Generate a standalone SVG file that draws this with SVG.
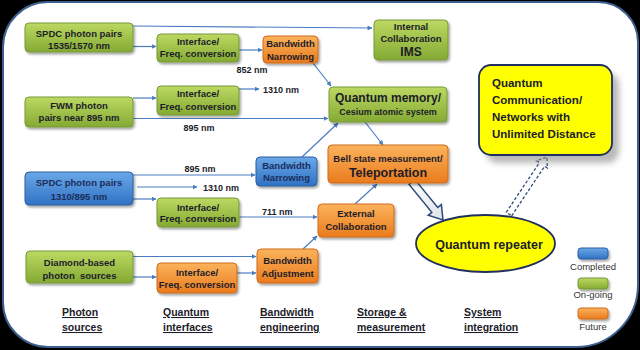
<svg xmlns="http://www.w3.org/2000/svg" width="640" height="350" viewBox="0 0 640 350">
<defs>
<linearGradient id="gG" x1="0" y1="0" x2="0" y2="1"><stop offset="0" stop-color="#bcd962"/><stop offset="1" stop-color="#84aa33"/></linearGradient>
<linearGradient id="gO" x1="0" y1="0" x2="0" y2="1"><stop offset="0" stop-color="#fbb35c"/><stop offset="1" stop-color="#ea7b1d"/></linearGradient>
<linearGradient id="gB" x1="0" y1="0" x2="0" y2="1"><stop offset="0" stop-color="#6aa8e8"/><stop offset="1" stop-color="#3072c4"/></linearGradient>
<linearGradient id="gW" x1="0" y1="0" x2="1" y2="1"><stop offset="0" stop-color="#ffffff"/><stop offset="1" stop-color="#dde3ea"/></linearGradient>
<filter id="sh" x="-20%" y="-20%" width="140%" height="150%"><feDropShadow dx="1.5" dy="2" stdDeviation="1.2" flood-color="#000" flood-opacity="0.35"/></filter>
<filter id="bl" x="-20%" y="-20%" width="140%" height="140%"><feGaussianBlur stdDeviation="3"/></filter>
<marker id="ah" viewBox="0 0 10 10" refX="9" refY="5" markerWidth="5" markerHeight="5" orient="auto" markerUnits="userSpaceOnUse"><path d="M0,0 L10,5 L0,10 z" fill="#4a7cc0"/></marker>
<style>
.g{fill:url(#gG);stroke:#76993a;stroke-width:1;filter:url(#sh)}
.o{fill:url(#gO);stroke:#cf6a1c;stroke-width:1;filter:url(#sh)}
.b{fill:url(#gB);stroke:#2e5f9e;stroke-width:1;filter:url(#sh)}
.t{font-family:"Liberation Sans",Arial,sans-serif;font-weight:bold;fill:#1c1c2a;text-anchor:middle;font-size:9.5px}
.tb{fill:#1c2d5a}
.big{font-size:12px}
.lb{font-family:"Liberation Sans",Arial,sans-serif;font-weight:bold;fill:#1c1c2a;font-size:9px}
.ax{font-family:"Liberation Sans",Arial,sans-serif;font-weight:bold;fill:#1c1c2a;font-size:10.5px;text-decoration:underline}
.lg{font-family:"Liberation Sans",Arial,sans-serif;fill:#333;font-size:9.5px;text-anchor:middle}
.c{fill:none;stroke:#4a7cc0;stroke-width:1.2;marker-end:url(#ah)}
</style>
</defs>
<rect x="0" y="0" width="640" height="350" fill="#000"/>
<path d="M48,2 L598,2 A40,40 0 0 1 638,42 L638,285 A62,62 0 0 1 576,347 L48,347 A45,45 0 0 1 3,302 L3,47 A45,45 0 0 1 48,2 Z" fill="#fff" stroke="#3d5f8f" stroke-width="2"/>

<g id="connectors">
<path class="c" d="M133,26 L372,28"/>
<path class="c" d="M133,46.5 L156,46.5"/>
<path class="c" d="M239,50 L262,50"/>
<path class="c" d="M313,63 L331,86"/>
<path class="c" d="M133,98 L156,98"/>
<path class="c" d="M239,89 L259,89"/>
<path class="c" d="M133,118.5 L328,118.5"/>
<path class="c" d="M302,157 L338,123"/>
<path class="c" d="M365,122 L383,145"/>
<path class="c" d="M133,175 L255,175"/>
<path class="c" d="M137,187 L197,187"/>
<path class="c" d="M133,199 L156,199"/>
<path class="c" d="M239,217 L317,217"/>
<path class="c" d="M355,204 L377,184"/>
<path class="c" d="M133,256.5 L256,256.5"/>
<path class="c" d="M133,277 L156,277"/>
<path class="c" d="M237,273 L256,273"/>
<path class="c" d="M303,249 L317,236"/>
<polygon points="414.95,179.6 437.73,207.53 441.37,204.56 443,220 428.19,215.3 431.83,212.33 409.05,184.4" fill="url(#gW)" stroke="#2a4a7a" stroke-width="1.5" stroke-linejoin="miter"/>
<polygon points="511.66,215.78 544.66,166.27 547.41,168.1 547,157 536.59,160.88 539.34,162.71 506.34,212.22" fill="#fff" stroke="#2a4a7a" stroke-width="1.3" stroke-dasharray="3,2"/>
<text class="lb" x="252" y="72.5" text-anchor="middle">852 nm</text>
<text class="lb" x="263" y="92.5">1310 nm</text>
<text class="lb" x="199" y="130.5" text-anchor="middle">895 nm</text>
<text class="lb" x="200" y="172" text-anchor="middle">895 nm</text>
<text class="lb" x="203" y="190.5">1310 nm</text>
<text class="lb" x="262" y="214.5">711 nm</text>
</g>

<g id="n1"><rect class="g" x="25" y="23" width="108" height="29" rx="4"/><text class="t" x="79" y="36.5">SPDC photon pairs</text><text class="t" x="79" y="48.5">1535/1570 nm</text></g>
<g id="n2"><rect class="g" x="157" y="34" width="82" height="28" rx="4"/><text class="t" x="198" y="44.5">Interface/</text><text class="t" x="198" y="56.5">Freq. conversion</text></g>
<g id="n3"><rect class="o" x="263" y="36" width="55" height="27" rx="4"/><text class="t" x="290.5" y="47">Bandwidth</text><text class="t" x="290.5" y="60">Narrowing</text></g>
<g id="n4"><rect class="g" x="374" y="20" width="74" height="40" rx="4"/><text class="t" x="411" y="29.5">Internal</text><text class="t" x="411" y="41.5">Collaboration</text><text class="t big" x="411" y="56">IMS</text></g>
<g id="n5"><rect class="g" x="25" y="97" width="108" height="30" rx="4"/><text class="t" x="79" y="108.5">FWM photon</text><text class="t" x="79" y="120.5">pairs near 895 nm</text></g>
<g id="n6"><rect class="g" x="157" y="86" width="82" height="29" rx="4"/><text class="t" x="198" y="96.5">Interface/</text><text class="t" x="198" y="109.5">Freq. conversion</text></g>
<g id="n7"><rect class="g" x="329" y="87" width="118" height="35" rx="4"/><text class="t big" x="388" y="102">Quantum memory/</text><text class="t" x="388" y="114.5" style="font-size:9px">Cesium atomic system</text></g>
<g id="n8"><rect class="o" x="328" y="145" width="120" height="38" rx="4"/><text class="t" x="388" y="161.5">Bell state measurement/</text><text class="t" x="388" y="176.5" style="font-size:12.5px">Teleportation</text></g>
<g id="n10"><rect class="b" x="256" y="157" width="61" height="29" rx="4"/><text class="t tb" x="286.5" y="168.5">Bandwidth</text><text class="t tb" x="286.5" y="181">Narrowing</text></g>
<g id="n11"><rect class="b" x="25" y="172" width="108" height="33" rx="4"/><text class="t tb" x="79" y="185.5">SPDC photon pairs</text><text class="t tb" x="79" y="199.5">1310/895 nm</text></g>
<g id="n12"><rect class="g" x="157" y="198" width="82" height="29" rx="4"/><text class="t" x="198" y="210.5">Interface/</text><text class="t" x="198" y="222">Freq. conversion</text></g>
<g id="n13"><rect class="o" x="318" y="204" width="76" height="33" rx="4"/><text class="t" x="356" y="216.5">External</text><text class="t" x="356" y="229.5">Collaboration</text></g>
<g id="n14"><rect class="g" x="26" y="251" width="107" height="32" rx="4"/><text class="t" x="79.5" y="265.5">Diamond-based</text><text class="t" x="79.5" y="278.5" xml:space="preserve">photon  sources</text></g>
<g id="n15"><rect class="o" x="157" y="263" width="80" height="30" rx="4"/><text class="t" x="197" y="275.5">Interface/</text><text class="t" x="197" y="287.5">Freq. conversion</text></g>
<g id="n16"><rect class="o" x="257" y="249" width="61" height="34" rx="4"/><text class="t" x="287.5" y="263.5">Bandwidth</text><text class="t" x="287.5" y="276.5">Adjustment</text></g>

<g id="n17"><ellipse cx="485.5" cy="243.5" rx="69.5" ry="28.5" fill="#ffff00" stroke="#1f2f5f" stroke-width="1.8"/><text class="t" x="489" y="248.5" style="font-size:12.5px">Quantum repeater</text></g>

<g id="n9"><rect x="486" y="73" width="133" height="90" rx="12" fill="#888" opacity="0.6" filter="url(#bl)"/><rect x="479" y="65" width="133" height="90" rx="12" fill="#ffff00" stroke="#1f2f5f" stroke-width="1.8"/>
<g class="t" style="text-anchor:start;font-size:11.5px"><text x="492" y="86.5">Quantum</text><text x="492" y="103.5">Communication/</text><text x="492" y="121">Networks with</text><text x="492" y="137.5">Unlimited Distance</text></g></g>

<g id="legend">
<rect class="b" x="578" y="248" width="30" height="11" rx="3"/><text class="lg" x="593" y="270">Completed</text>
<rect class="g" x="578" y="278" width="30" height="11" rx="3"/><text class="lg" x="593" y="297.5">On-going</text>
<rect class="o" x="578" y="308" width="30" height="11" rx="3"/><text class="lg" x="593" y="329.5">Future</text>
</g>

<g id="axis">
<text class="ax" x="62" y="316">Photon</text><text class="ax" x="62" y="331">sources</text>
<text class="ax" x="163" y="316">Quantum</text><text class="ax" x="163" y="331">interfaces</text>
<text class="ax" x="260" y="316">Bandwidth</text><text class="ax" x="260" y="331">engineering</text>
<text class="ax" x="357" y="316">Storage &amp;</text><text class="ax" x="357" y="331">measurement</text>
<text class="ax" x="464" y="316">System</text><text class="ax" x="464" y="331">integration</text>
</g>
</svg>
